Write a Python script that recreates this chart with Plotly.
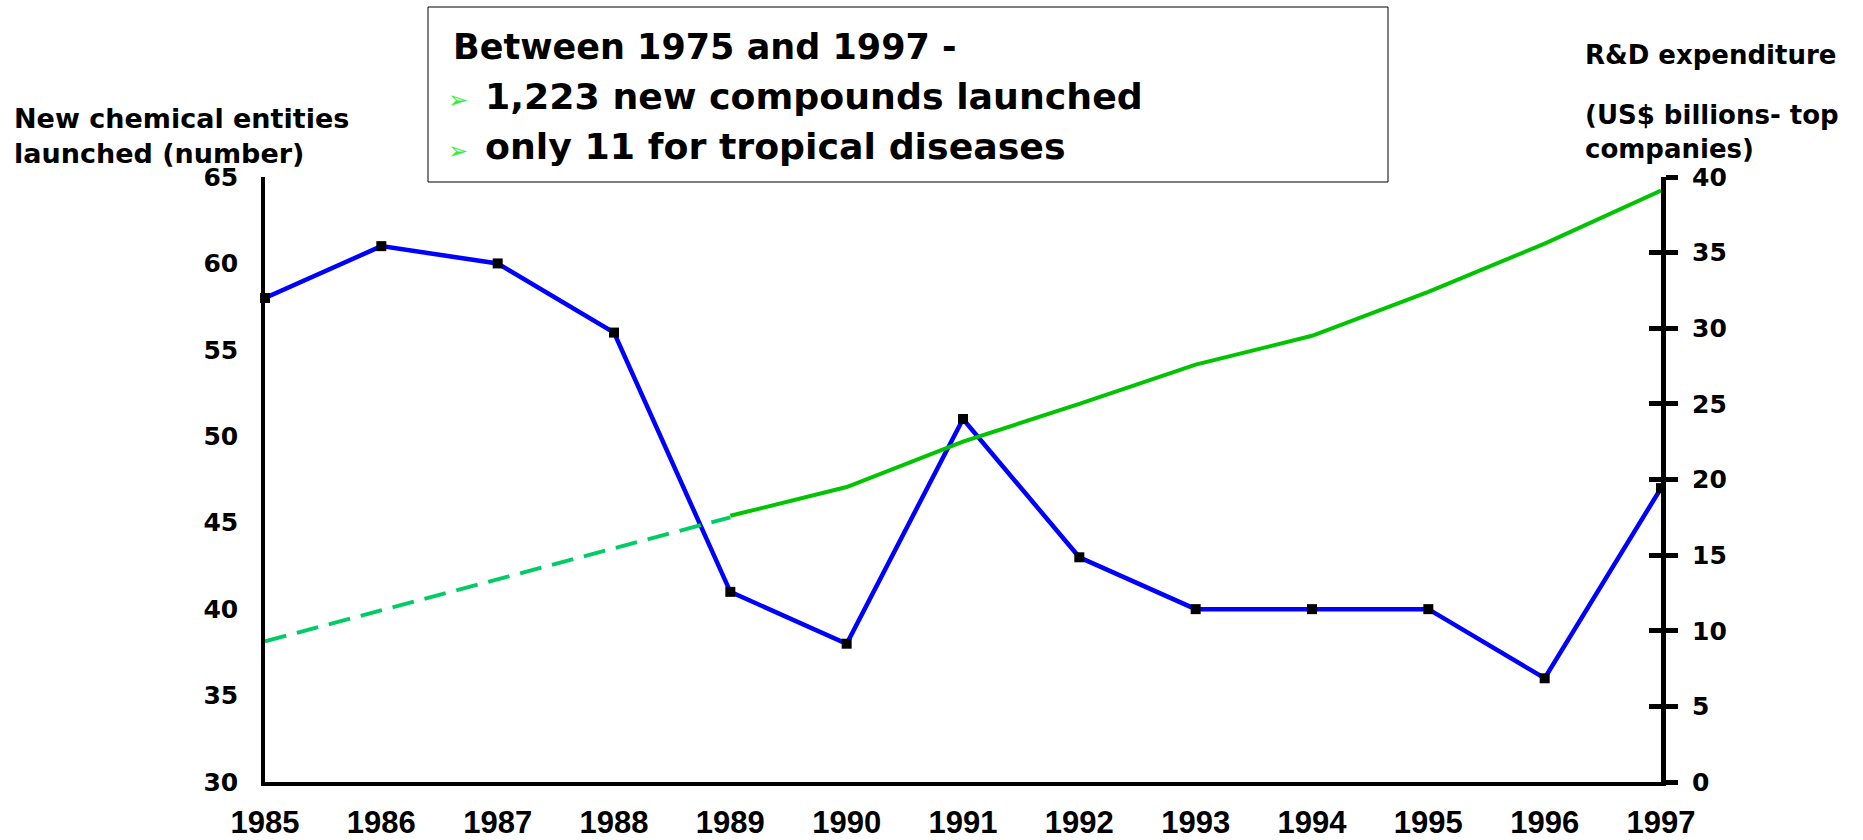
import plotly.graph_objects as go

# ---------------- data ----------------
years = [1985, 1986, 1987, 1988, 1989, 1990, 1991, 1992, 1993, 1994, 1995, 1996, 1997]
year_labels = [str(y) for y in years]
nce_launched = [58, 61, 60, 56, 41, 38, 51, 43, 40, 40, 40, 36, 47]

rd_years = [1989, 1990, 1991, 1992, 1993, 1994, 1995, 1996, 1997]
rd_spend = [17.6, 19.5, 22.5, 25.0, 27.6, 29.5, 32.4, 35.6, 39.1]

rd_trend_years = [1985, 1989]
rd_trend = [9.3, 17.5]

left_ticks = [30, 35, 40, 45, 50, 55, 60, 65]
right_ticks = [0, 5, 10, 15, 20, 25, 30, 35, 40]

box_title = "Between 1975 and 1997 -"
box_points = ["1,223 new compounds launched", "only 11 for tropical diseases"]
left_title = "New chemical entities<br>launched (number)"
right_title_1 = "R&D expenditure"
right_title_2 = "(US$ billions- top<br>companies)"

# ---------------- layout geometry (pixels) ----------------
W, H = 1863, 840
L, R, T, B = 265, 1661, 177, 782
PW, PH = R - L, B - T


def px(xp):
    return (xp - L) / PW


def py(yp):
    return (B - yp) / PH


FONT = "DejaVu Sans"

fig = go.Figure()

fig.add_trace(go.Scatter(
    x=rd_trend_years, y=rd_trend, yaxis="y3", mode="lines",
    line=dict(color="#00CC66", width=4, dash="22px,11px"),
    showlegend=False, hoverinfo="skip"))

fig.add_trace(go.Scatter(
    x=rd_years, y=rd_spend, yaxis="y2", mode="lines",
    line=dict(color="#00C400", width=4),
    showlegend=False))

fig.add_trace(go.Scatter(
    x=years, y=nce_launched, yaxis="y", mode="lines+markers",
    line=dict(color="#0000FF", width=4.5),
    marker=dict(symbol="square", size=10, color="black"),
    cliponaxis=False, showlegend=False))

fig.update_layout(
    width=W, height=H,
    margin=dict(l=L, r=W - R, t=T, b=H - B, pad=0, autoexpand=False),
    paper_bgcolor="white", plot_bgcolor="white",
    showlegend=False,
    xaxis=dict(
        range=[1985, 1997], tickmode="array", tickvals=years, ticktext=year_labels,
        showgrid=False, zeroline=False, showline=True, linecolor="black", linewidth=4,
        ticks="", ticklabelstandoff=10, automargin=False,
        tickfont=dict(family="Liberation Sans", size=31, color="black", weight="bold"),
    ),
    yaxis=dict(
        range=[30, 65], tickmode="array", tickvals=left_ticks, automargin=False,
        showgrid=False, zeroline=False, showline=True, linecolor="black", linewidth=3.5,
        ticks="", ticklabelstandoff=18,
        tickfont=dict(family=FONT, size=25, color="black", weight="bold"),
    ),
    yaxis2=dict(
        range=[0, 40], tickmode="array", tickvals=right_ticks, automargin=False,
        overlaying="y", side="right", anchor="x",
        showgrid=False, zeroline=False, showline=True, linecolor="black", linewidth=5,
        ticks="outside", ticklen=12, tickwidth=5, tickcolor="black", ticklabelstandoff=9,
        tickfont=dict(family=FONT, size=25, color="black", weight="bold"),
    ),
    yaxis3=dict(
        range=[0, 40], tickmode="array", tickvals=right_ticks, automargin=False,
        overlaying="y", side="right", anchor="x",
        showgrid=False, zeroline=False, showline=False,
        ticks="inside", ticklen=12, tickwidth=5, tickcolor="black",
        showticklabels=False,
    ),
)

# text box frame
fig.add_shape(type="rect", xref="paper", yref="paper",
              x0=px(428), x1=px(1388), y0=py(182), y1=py(7),
              line=dict(color="black", width=1), fillcolor="white", layer="above")

ann = []
ann.append(dict(text=box_title, x=px(451), y=py(47), xanchor="left", yanchor="middle",
                font=dict(family=FONT, size=35, color="black", weight="bold")))
for yc, t in zip([96, 147], box_points):
    ann.append(dict(text="➢", x=px(446), y=py(yc + 4), xanchor="left", yanchor="middle",
                    font=dict(family=FONT, size=24, color="#33EE33")))
    ann.append(dict(text=t, x=px(483), y=py(yc), xanchor="left", yanchor="middle",
                    font=dict(family=FONT, size=36.3, color="black", weight="bold")))

ann.append(dict(text=left_title, x=px(12), y=py(136), xanchor="left", yanchor="middle",
                align="left", font=dict(family=FONT, size=27, color="black", weight="bold")))
ann.append(dict(text=right_title_1, x=px(1583), y=py(55), xanchor="left", yanchor="middle",
                align="left", font=dict(family=FONT, size=26, color="black", weight="bold")))
ann.append(dict(text=right_title_2, x=px(1583), y=py(132), xanchor="left", yanchor="middle",
                align="left", font=dict(family=FONT, size=26, color="black", weight="bold")))

for a in ann:
    a.update(xref="paper", yref="paper", showarrow=False)
fig.update_layout(annotations=ann)

fig.write_html("out.html", config={"displayModeBar": False},
               post_script="document.body.style.margin='0px';")
